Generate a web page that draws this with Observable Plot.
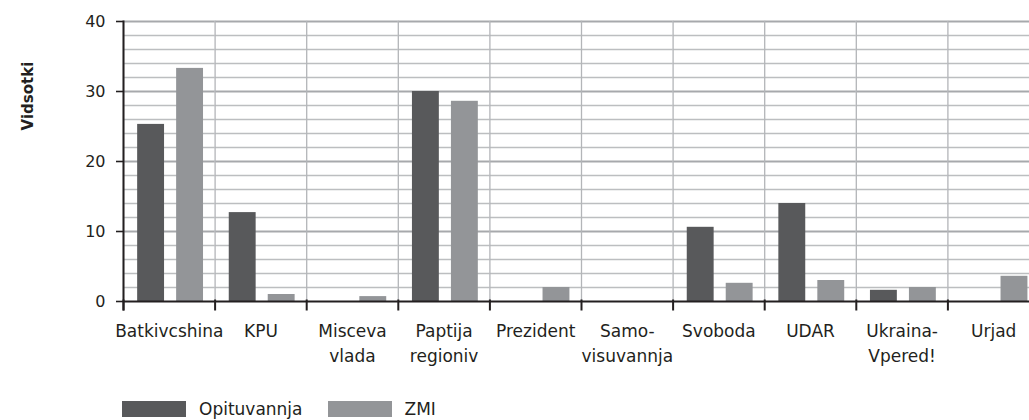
<!DOCTYPE html>
<html><head><meta charset="utf-8">
<script src="https://cdn.jsdelivr.net/npm/d3@7"></script>
<script src="https://cdn.jsdelivr.net/npm/@observablehq/plot@0.6"></script>
<style>
body{margin:0;background:#fff;font-family:"DejaVu Sans",sans-serif;}
#wrap{position:relative;width:1029px;height:420px;overflow:hidden;}
#ylabel{position:absolute;left:28px;top:96px;transform:translate(-50%,-50%) rotate(-90deg);font-weight:bold;font-size:15px;color:#231f20;white-space:nowrap;}
#legend{position:absolute;left:122px;top:401px;height:16px;display:flex;align-items:center;font-size:17px;color:#231f20;}
.sw{width:64px;height:16px;display:inline-block;margin-right:13px;}
.item{display:flex;align-items:center;margin-right:25px;}
</style></head><body><div id="wrap"><div id="chart"></div><div id="ylabel">Vidsotki</div><div id="legend"></div></div>
<script>
const parties = ["Batkivcshina","KPU","Misceva vlada","Paptija regioniv","Prezident","Samo-visuvannja","Svoboda","UDAR","Ukraina-Vpered!","Urjad"];
const partyLabels = ["Batkivcshina","KPU","Misceva\nvlada","Paptija\nregioniv","Prezident","Samo-\nvisuvannja","Svoboda","UDAR","Ukraina-\nVpered!","Urjad"];
const series = ["Opituvannja","ZMI"];
const opituvannja = [25.3,12.7,0,30.0,0,0,10.6,14.0,1.6,0];
const zmi = [33.3,1.0,0.7,28.6,2.0,0,2.6,3.0,2.0,3.6];
const yTicks = [0,10,20,30,40];
const yMinorTicks = [2,4,6,8,12,14,16,18,22,24,26,28,32,34,36,38];
const colors = ["#58595b","#939598"];

const rows = [];
parties.forEach((p,i) => {
  rows.push({party:p, series:series[0], value:opituvannja[i]});
  rows.push({party:p, series:series[1], value:zmi[i]});
});

const chart = Plot.plot({
  width: 1029, height: 392,
  marginTop: 21, marginBottom: 91, marginLeft: 123, marginRight: -10,
  style: {fontFamily: "DejaVu Sans", fontSize: "17px", color: "#231f20", background: "white"},
  fx: {domain: parties, padding: 0, round: false, label: null},
  x: {domain: series, paddingInner: 0.31, paddingOuter: 0.33, align: 0.55, round: false, axis: null},
  y: {domain: [0,40], label: null},
  color: {domain: series, range: colors},
  marks: [
    Plot.ruleY(yMinorTicks, {stroke: "#bcbec0", strokeWidth: 1.3}),
    Plot.ruleY(yTicks.slice(1), {stroke: "#a7a9ac", strokeWidth: 2.2}),
    Plot.frame({anchor: "left", stroke: "#b3b5b8", strokeWidth: 1.3}),
    Plot.barY(rows, {fx: "party", x: "series", y: "value", fill: "series"}),
    Plot.ruleY([0], {stroke: "#231f20", strokeWidth: 2}),
    Plot.frame({anchor: "left", stroke: "#231f20", strokeWidth: 2, insetTop: 279, insetBottom: -8}),
    Plot.frame({anchor: "left", stroke: "#231f20", strokeWidth: 2, insetBottom: -8, fx: [parties[0]]}),
    Plot.axisY(yTicks, {anchor: "left", tickSize: 7, tickPadding: 11, fontSize: 16, label: null, stroke: "#231f20", strokeWidth: 1.6}),
    Plot.axisFx({anchor: "bottom", tickSize: 0, tickPadding: 18, lineHeight: 1.45, fontSize: 17, label: null,
      tickFormat: d => partyLabels[parties.indexOf(d)]})
  ]
});
document.getElementById("chart").appendChild(chart);

const legend = document.getElementById("legend");
series.forEach((s,i) => {
  const item = document.createElement("div");
  item.className = "item";
  item.innerHTML = `<span class="sw" style="background:${colors[i]}"></span><span>${s}</span>`;
  legend.appendChild(item);
});
</script></body></html>
